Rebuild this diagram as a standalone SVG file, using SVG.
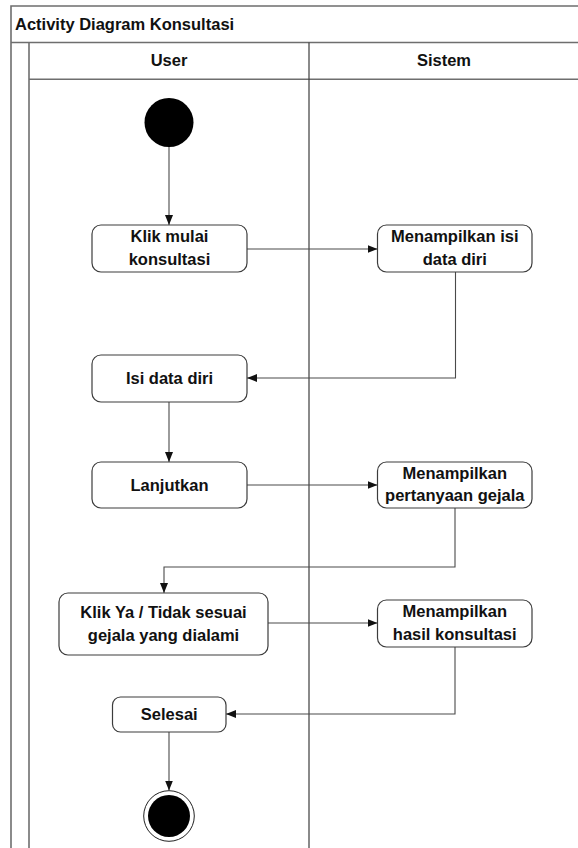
<svg xmlns="http://www.w3.org/2000/svg" width="578" height="848" viewBox="0 0 578 848">
  <style>
    .frame { fill: none; stroke: #6e6e6e; stroke-width: 1.6; }
    .act { fill: #ffffff; stroke: #3c3c3c; stroke-width: 1.2; }
    .lbl { font-family: "Liberation Sans", Arial, sans-serif; font-weight: bold; font-size: 16.5px; fill: #111; text-anchor: middle; }
    .title { font-family: "Liberation Sans", Arial, sans-serif; font-weight: bold; font-size: 16.5px; fill: #111; }
    .flow { fill: none; stroke: #4a4a4a; stroke-width: 1.1; marker-end: url(#arrow); }
  </style>
  <defs>
    <marker id="arrow" viewBox="0 0 10 8" refX="10" refY="4" markerWidth="10" markerHeight="8" markerUnits="userSpaceOnUse" orient="auto">
      <path d="M0,0 L10,4 L0,8 Z" fill="#111"/>
    </marker>
  </defs>

  <rect width="578" height="848" fill="#ffffff"/>

  <!-- swimlane frame -->
  <g id="frame">
    <path class="frame" d="M11,860 V6 H590"/>
    <path class="frame" d="M11,42.5 H590"/>
    <path class="frame" d="M29,42.5 V860"/>
    <path class="frame" d="M29,79.3 H590"/>
    <path d="M309,42.5 V860" fill="none" stroke="#3c3c3c" stroke-width="1.2"/>
    <text class="title" x="15" y="30">Activity Diagram Konsultasi</text>
    <text class="lbl" x="169" y="66">User</text>
    <text class="lbl" x="444" y="66">Sistem</text>
  </g>

  <!-- connectors -->
  <g id="connectors">
    <path class="flow" d="M169,147 V225"/>
    <path class="flow" d="M247,249 H377.5"/>
    <path class="flow" d="M455.5,272 V378 H247"/>
    <path class="flow" d="M169,402 V462"/>
    <path class="flow" d="M247,485 H377.5"/>
    <path class="flow" d="M455,508 V567 H164 V593"/>
    <path class="flow" d="M268,623 H377.5"/>
    <path class="flow" d="M455,647 V714 H226"/>
    <path class="flow" d="M169,732 V790.5"/>
  </g>

  <g id="start">
    <circle cx="169" cy="122.5" r="24.5" fill="#000"/>
  </g>

  <g id="klik-mulai">
    <rect class="act" x="92" y="225" width="155" height="47" rx="9"/>
    <text class="lbl" x="169.5" y="242">Klik mulai</text>
    <text class="lbl" x="169.5" y="264.5">konsultasi</text>
  </g>

  <g id="tampil-data-diri">
    <rect class="act" x="377.5" y="225" width="154.5" height="47" rx="9"/>
    <text class="lbl" x="454.75" y="242">Menampilkan isi</text>
    <text class="lbl" x="454.75" y="264.5">data diri</text>
  </g>

  <g id="isi-data-diri">
    <rect class="act" x="92" y="355" width="155" height="47" rx="9"/>
    <text class="lbl" x="169.5" y="384">Isi data diri</text>
  </g>

  <g id="lanjutkan">
    <rect class="act" x="92" y="462" width="155" height="46" rx="9"/>
    <text class="lbl" x="169.5" y="490.5">Lanjutkan</text>
  </g>

  <g id="tampil-pertanyaan">
    <rect class="act" x="377.5" y="462" width="154.5" height="46" rx="9"/>
    <text class="lbl" x="454.75" y="478.5">Menampilkan</text>
    <text class="lbl" x="454.75" y="501">pertanyaan gejala</text>
  </g>

  <g id="klik-ya-tidak">
    <rect class="act" x="59" y="593" width="209" height="62" rx="9"/>
    <text class="lbl" x="163.5" y="617.5">Klik Ya / Tidak sesuai</text>
    <text class="lbl" x="163.5" y="640.5">gejala yang dialami</text>
  </g>

  <g id="tampil-hasil">
    <rect class="act" x="377.5" y="600" width="154.5" height="47" rx="9"/>
    <text class="lbl" x="454.75" y="617">Menampilkan</text>
    <text class="lbl" x="454.75" y="639.5">hasil konsultasi</text>
  </g>

  <g id="selesai">
    <rect class="act" x="112.5" y="697" width="113.5" height="35" rx="8"/>
    <text class="lbl" x="169.25" y="720">Selesai</text>
  </g>

  <g id="end">
    <circle cx="169" cy="816" r="25.3" fill="#fff" stroke="#222" stroke-width="1"/>
    <circle cx="169" cy="816" r="21" fill="#000"/>
  </g>
</svg>
